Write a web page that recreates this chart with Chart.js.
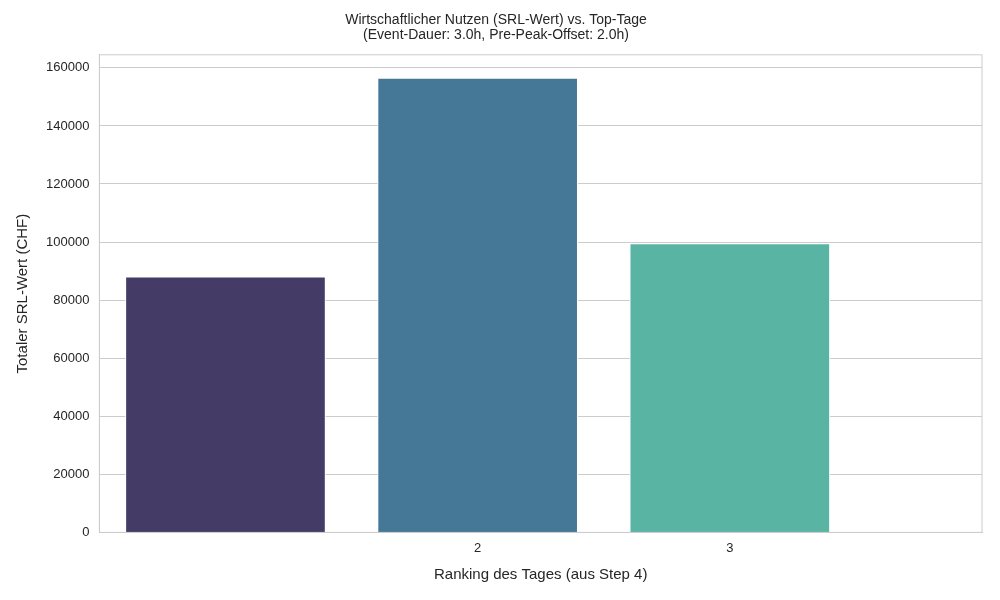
<!DOCTYPE html>
<html><head><meta charset="utf-8">
<script src="https://cdn.jsdelivr.net/npm/chart.js@4"></script>
<style>body{margin:0;background:#fff}#wrap{width:1000px;height:600px}</style>
</head><body><div id="wrap"><canvas id="c"></canvas></div>
<script>
const positions = [0, 1, 2];
const tickLabels = {1: '2', 2: '3'};
const srlValues = [88000, 156500, 99500];
const barColors = ['#443c66', '#447896', '#5ab4a4'];
const yTicks = [0, 20000, 40000, 60000, 80000, 100000, 120000, 140000, 160000];

const fontFam = 'Liberation Sans, Arial, sans-serif';
const ctx = document.getElementById('c').getContext('2d');
new Chart(ctx, {
    type: 'bar',
    data: {
        datasets: [{
            data: positions.map((p, i) => ({x: p, y: srlValues[i]})),
            backgroundColor: barColors,
            borderColor: '#ffffff',
            borderWidth: 1,
            barThickness: 200
        }]
    },
    options: {
        responsive: true,
        maintainAspectRatio: false,
        animation: false,
        layout: {padding: {left: 10, right: 18, top: 8, bottom: 12}},
        plugins: {
            legend: {display: false},
            tooltip: {enabled: false},
            title: {
                display: true,
                text: ['Wirtschaftlicher Nutzen (SRL-Wert) vs. Top-Tage', '(Event-Dauer: 3.0h, Pre-Peak-Offset: 2.0h)'],
                color: '#262626',
                font: {family: fontFam, size: 14, weight: 'normal', lineHeight: 1.1},
                padding: {top: 4, bottom: 12}
            }
        },
        scales: {
            x: {
                type: 'linear',
                offset: false,
                min: -0.5,
                max: 3.0,
                afterBuildTicks: axis => { axis.ticks = [{value: 1}, {value: 2}]; },
                ticks: {
                    callback: v => tickLabels[v] || '',
                    color: '#262626',
                    font: {family: fontFam, size: 13},
                    padding: 8
                },
                grid: {display: false, drawTicks: false},
                border: {color: '#cccccc'},
                title: {display: true, text: 'Ranking des Tages (aus Step 4)', color: '#262626', font: {family: fontFam, size: 15}, padding: {top: 2}}
            },
            y: {
                min: 0,
                max: 164500,
                afterBuildTicks: axis => { axis.ticks = yTicks.map(v => ({value: v})); },
                ticks: {callback: v => String(v), color: '#262626', font: {family: fontFam, size: 13}, padding: 10},
                grid: {color: '#cccccc', drawTicks: false},
                border: {color: '#cccccc'},
                title: {display: true, text: 'Totaler SRL-Wert (CHF)', color: '#262626', font: {family: fontFam, size: 15}}
            }
        }
    },
    plugins: [{
        id: 'frame',
        afterDraw(chart) {
            const a = chart.chartArea, c = chart.ctx;
            c.save(); c.strokeStyle = '#cccccc'; c.lineWidth = 1;
            c.strokeRect(a.left, a.top, a.right - a.left, a.bottom - a.top);
            c.restore();
        }
    }]
});
</script></body></html>
